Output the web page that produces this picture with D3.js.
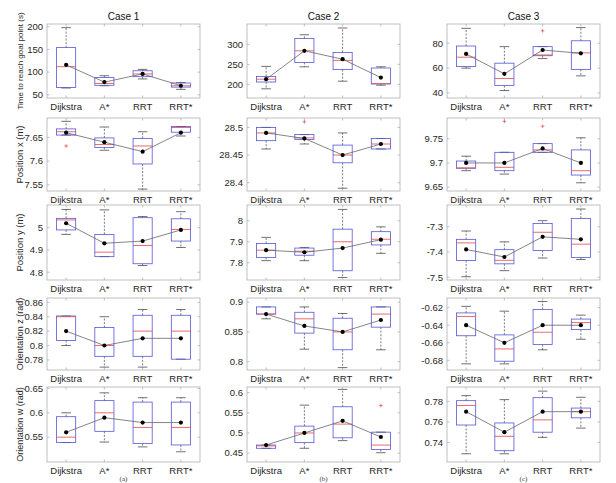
<!DOCTYPE html>
<html>
<head>
  <meta charset="utf-8">
  <script src="https://d3js.org/d3.v7.min.js"></script>
  <style type="text/css">
    body { margin: 0; background-color: #ffffff; }
    svg { display: block; font-family: 'Liberation Sans', Arial, sans-serif; }
  </style>
</head>
<body>
<div id="chart"></div>
<script>
  var categories = ["Dijkstra", "A*", "RRT", "RRT*"];
  var caseTitles = ["Case 1", "Case 2", "Case 3"];
  var panelLetters = ["(a)", "(b)", "(c)"];
  var rowLabels = ["Time to reach goal point (s)", "Position x (m)", "Position y (m)", "Orientation z (rad)", "Orientation w (rad)"];

  // boxes: [low whisker, q1, median, q3, high whisker] for each case, then each planner
  var timeBoxes = [
    [[65, 66, 112, 154, 198], [70, 71, 75, 88, 92], [85, 90, 96, 103, 106], [62, 67, 70, 76, 77]],
    [[189, 206, 213, 220, 245], [244, 255, 284, 315, 324], [208, 237, 260, 280, 341], [198, 201, 202, 241, 244]],
    [[60, 61.3, 68.8, 77.8, 92], [42, 46, 51.7, 64, 77.3], [67.7, 70, 70.6, 77.3, 77.3], [53.8, 59, 72.3, 82, 92.6]]
  ];
  var timeMeans = [[116, 78, 96, 70], [213, 284, 263, 217], [71.4, 55.4, 74.6, 71.9]];
  var timeOutliers = [[2, 2, 90]]; // [case, planner, value]
  var timeDomains = [[43, 206], [166, 351], [36, 95.5]];
  var timeTicks = [[50, 100, 150, 200], [200, 250, 300], [40, 60, 80]];

  var posXBoxes = [
    [[7.655, 7.655, 7.662, 7.668, 7.684], [7.623, 7.629, 7.635, 7.649, 7.672], [7.541, 7.594, 7.632, 7.648, 7.662], [7.653, 7.661, 7.671, 7.673, 7.673]],
    [[28.461, 28.476, 28.49, 28.5, 28.5], [28.47, 28.478, 28.481, 28.487, 28.487], [28.39, 28.436, 28.45, 28.468, 28.49], [28.461, 28.461, 28.47, 28.48, 28.48]],
    [[9.684, 9.689, 9.69, 9.704, 9.714], [9.677, 9.684, 9.691, 9.722, 9.722], [9.722, 9.722, 9.727, 9.74, 9.74], [9.659, 9.675, 9.684, 9.727, 9.752]]
  ];
  var posXMeans = [[7.66, 7.64, 7.62, 7.66], [28.49, 28.48, 28.45, 28.47], [9.70, 9.70, 9.73, 9.70]];
  var posXOutliers = [[0, 0, 7.632], [1, 1, 28.51], [2, 1, 9.786], [2, 2, 9.776]];
  var posXDomains = [[7.537, 7.691], [28.385, 28.517], [9.642, 9.793]];
  var posXTicks = [[7.55, 7.6, 7.65], [28.4, 28.45, 28.5], [9.65, 9.7, 9.75]];

  var posYBoxes = [
    [[4.97, 4.99, 5.035, 5.042, 5.082], [4.87, 4.87, 4.89, 4.97, 5.08], [4.83, 4.838, 4.92, 5.045, 5.05], [4.911, 4.94, 4.992, 5.04, 5.072]],
    [[7.81, 7.825, 7.86, 7.892, 7.921], [7.81, 7.836, 7.855, 7.87, 7.873], [7.73, 7.762, 7.90, 7.96, 8.054], [7.845, 7.885, 7.912, 7.948, 7.971]],
    [[-7.498, -7.434, -7.364, -7.35, -7.317], [-7.474, -7.447, -7.433, -7.391, -7.36], [-7.424, -7.394, -7.322, -7.287, -7.276], [-7.43, -7.422, -7.369, -7.267, -7.23]]
  ];
  var posYMeans = [[5.02, 4.93, 4.94, 4.99], [7.86, 7.85, 7.87, 7.91], [-7.39, -7.42, -7.34, -7.35]];
  var posYOutliers = [];
  var posYDomains = [[4.765, 5.102], [7.718, 8.075], [-7.511, -7.214]];
  var posYTicks = [[4.8, 4.9, 5], [7.8, 7.9, 8], [-7.5, -7.4, -7.3]];

  var oriZBoxes = [
    [[0.80, 0.807, 0.84, 0.841, 0.841], [0.77, 0.785, 0.80, 0.825, 0.84], [0.77, 0.785, 0.82, 0.842, 0.85], [0.781, 0.781, 0.82, 0.842, 0.85]],
    [[0.872, 0.88, 0.88, 0.892, 0.892], [0.821, 0.848, 0.872, 0.883, 0.892], [0.79, 0.82, 0.85, 0.873, 0.881], [0.82, 0.858, 0.88, 0.892, 0.892]],
    [[-0.684, -0.652, -0.630, -0.626, -0.6185], [-0.684, -0.681, -0.667, -0.651, -0.624], [-0.668, -0.662, -0.648, -0.622, -0.613], [-0.656, -0.645, -0.637, -0.633, -0.6285]]
  ];
  var oriZMeans = [[0.82, 0.80, 0.81, 0.81], [0.88, 0.86, 0.85, 0.87], [-0.64, -0.66, -0.64, -0.64]];
  var oriZOutliers = [];
  var oriZDomains = [[0.766, 0.866], [0.786, 0.907], [-0.691, -0.609]];
  var oriZTicks = [[0.78, 0.8, 0.82, 0.84, 0.86], [0.8, 0.85, 0.9], [-0.68, -0.66, -0.64, -0.62]];

  var oriWBoxes = [
    [[0.539, 0.539, 0.55, 0.592, 0.60], [0.54, 0.562, 0.60, 0.625, 0.641], [0.53, 0.537, 0.57, 0.622, 0.631], [0.52, 0.534, 0.57, 0.622, 0.631]],
    [[0.462, 0.462, 0.468, 0.47, 0.47], [0.462, 0.476, 0.50, 0.517, 0.569], [0.481, 0.488, 0.522, 0.565, 0.608], [0.451, 0.459, 0.47, 0.502, 0.502]],
    [[0.729, 0.757, 0.776, 0.7807, 0.7856], [0.729, 0.732, 0.746, 0.759, 0.7817], [0.745, 0.750, 0.762, 0.7836, 0.790], [0.754, 0.764, 0.77, 0.7735, 0.784]]
  ];
  var oriWMeans = [[0.56, 0.59, 0.58, 0.58], [0.47, 0.50, 0.53, 0.49], [0.77, 0.75, 0.77, 0.77]];
  var oriWOutliers = [[1, 3, 0.568]];
  var oriWDomains = [[0.499, 0.653], [0.428, 0.614], [0.721, 0.794]];
  var oriWTicks = [[0.55, 0.6, 0.65], [0.45, 0.5, 0.55, 0.6], [0.74, 0.76, 0.78]];

  var rows = [
    {boxes: timeBoxes, means: timeMeans, outliers: timeOutliers, domains: timeDomains, ticks: timeTicks, labelSize: 8},
    {boxes: posXBoxes, means: posXMeans, outliers: posXOutliers, domains: posXDomains, ticks: posXTicks, labelSize: 9.5},
    {boxes: posYBoxes, means: posYMeans, outliers: posYOutliers, domains: posYDomains, ticks: posYTicks, labelSize: 9.5},
    {boxes: oriZBoxes, means: oriZMeans, outliers: oriZOutliers, domains: oriZDomains, ticks: oriZTicks, labelSize: 9},
    {boxes: oriWBoxes, means: oriWMeans, outliers: oriWOutliers, domains: oriWDomains, ticks: oriWTicks, labelSize: 9}
  ];

  // layout of the 5x3 grid of axes
  var W = 616, H = 483;
  var colLeft = [47, 247, 447], colWidth = 153;
  var rowTop = [24, 118, 205, 298, 387];
  var rowBottom = [98, 191, 280, 370, 462];

  var frameColor = "#b0b0b0", textColor = "#262626";

  var svg = d3.select("#chart").append("svg").attr("width", W).attr("height", H);
  svg.append("rect").attr("width", W).attr("height", H).attr("fill", "#ffffff");

  rows.forEach(function (row, r) {
    // y label on the left column only
    var yMid = (rowTop[r] + rowBottom[r]) / 2;
    svg.append("text")
      .attr("transform", "translate(23," + yMid + ") rotate(-90)")
      .attr("text-anchor", "middle")
      .attr("font-size", row.labelSize)
      .attr("fill", textColor)
      .text(rowLabels[r]);

    caseTitles.forEach(function (t, c) {
      var left = colLeft[c], right = colLeft[c] + colWidth;
      var top = rowTop[r], bottom = rowBottom[r];
      var g = svg.append("g");

      var x = d3.scalePoint().domain(categories).range([left, right]).padding(0.5);
      var y = d3.scaleLinear().domain(row.domains[c]).range([bottom, top]);
      var bw = x.step() * 0.5;

      // axes frame
      g.append("rect").attr("x", left).attr("y", top).attr("width", colWidth).attr("height", bottom - top)
        .attr("fill", "none").attr("stroke", frameColor).attr("stroke-width", 0.8);

      // y ticks (inside, both sides) and labels
      row.ticks[c].forEach(function (v) {
        var yy = y(v);
        g.append("line").attr("x1", left).attr("x2", left + 2.5).attr("y1", yy).attr("y2", yy).attr("stroke", frameColor).attr("stroke-width", 0.8);
        g.append("line").attr("x1", right).attr("x2", right - 2.5).attr("y1", yy).attr("y2", yy).attr("stroke", frameColor).attr("stroke-width", 0.8);
        g.append("text").attr("x", left - 4).attr("y", yy).attr("dy", "0.35em")
          .attr("text-anchor", "end").attr("font-size", 9.5).attr("fill", textColor)
          .text(String(v));
      });

      // x ticks and category labels
      categories.forEach(function (cat) {
        var xx = x(cat);
        g.append("line").attr("x1", xx).attr("x2", xx).attr("y1", bottom).attr("y2", bottom - 2.5).attr("stroke", frameColor).attr("stroke-width", 0.8);
        g.append("line").attr("x1", xx).attr("x2", xx).attr("y1", top).attr("y2", top + 2.5).attr("stroke", frameColor).attr("stroke-width", 0.8);
        g.append("text").attr("x", xx).attr("y", bottom + 11.5)
          .attr("text-anchor", "middle").attr("font-size", 9.5).attr("fill", textColor)
          .text(cat);
      });

      // boxplots
      row.boxes[c].forEach(function (b, i) {
        var xx = x(categories[i]);
        var lo = b[0], q1 = b[1], med = b[2], q3 = b[3], hi = b[4];
        if (hi > q3) {
          g.append("line").attr("x1", xx).attr("x2", xx).attr("y1", y(q3)).attr("y2", y(hi))
            .attr("stroke", "#444").attr("stroke-width", 0.7).attr("stroke-dasharray", "2,1.5");
        }
        if (lo < q1) {
          g.append("line").attr("x1", xx).attr("x2", xx).attr("y1", y(q1)).attr("y2", y(lo))
            .attr("stroke", "#444").attr("stroke-width", 0.7).attr("stroke-dasharray", "2,1.5");
        }
        [lo, hi].forEach(function (v) {
          g.append("line").attr("x1", xx - bw / 4).attr("x2", xx + bw / 4).attr("y1", y(v)).attr("y2", y(v))
            .attr("stroke", "#333").attr("stroke-width", 0.7);
        });
        g.append("rect").attr("x", xx - bw / 2).attr("y", y(q3)).attr("width", bw).attr("height", Math.max(0.5, y(q1) - y(q3)))
          .attr("fill", "none").attr("stroke", "#5555d5").attr("stroke-width", 0.8);
        g.append("line").attr("x1", xx - bw / 2).attr("x2", xx + bw / 2).attr("y1", y(med)).attr("y2", y(med))
          .attr("stroke", "#e04848").attr("stroke-width", 0.8);
      });

      // outliers
      row.outliers.filter(function (o) { return o[0] === c; }).forEach(function (o) {
        var xx = x(categories[o[1]]), yy = y(o[2]);
        g.append("path").attr("d", "M" + (xx - 1.8) + "," + yy + "H" + (xx + 1.8) + "M" + xx + "," + (yy - 1.8) + "V" + (yy + 1.8))
          .attr("stroke", "#e04848").attr("stroke-width", 0.7);
      });

      // mean line and dots
      var line = d3.line().x(function (d, i) { return x(categories[i]); }).y(function (d) { return y(d); });
      g.append("path").datum(row.means[c]).attr("d", line)
        .attr("fill", "none").attr("stroke", "#666").attr("stroke-width", 0.8);
      g.selectAll("circle.mean").data(row.means[c]).enter().append("circle")
        .attr("cx", function (d, i) { return x(categories[i]); })
        .attr("cy", function (d) { return y(d); })
        .attr("r", 2.1).attr("fill", "#000");
    });
  });

  // case titles and panel letters
  caseTitles.forEach(function (t, c) {
    var cx = colLeft[c] + colWidth / 2;
    svg.append("text").attr("x", cx).attr("y", 20).attr("text-anchor", "middle")
      .attr("font-size", 10).attr("fill", "#111").text(t);
    svg.append("text").attr("x", cx).attr("y", 481).attr("text-anchor", "middle")
      .attr("font-family", "'Liberation Serif', serif").attr("font-size", 7).attr("fill", "#333").text(panelLetters[c]);
  });
</script>
</body>
</html>
